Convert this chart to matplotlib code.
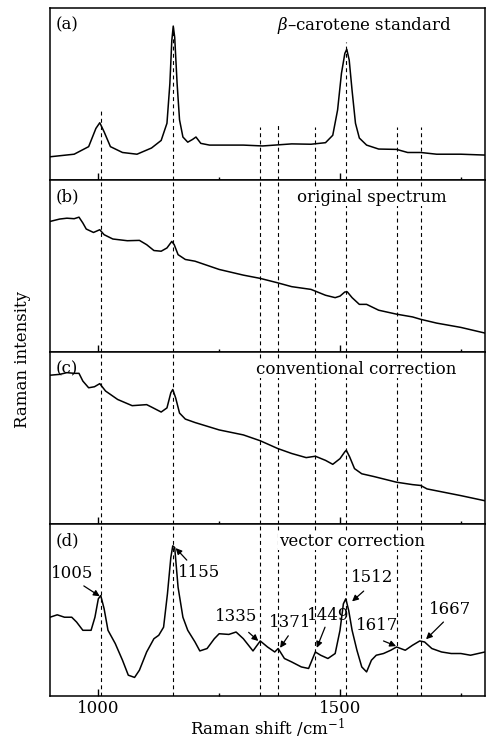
import numpy as np
import matplotlib
matplotlib.use("Agg")
import matplotlib.pyplot as plt

plt.rcParams['font.family'] = 'DejaVu Serif'
plt.rcParams['mathtext.fontset'] = 'dejavuserif'

# ---- data (arbitrary intensity units, 0-100 per panel) ----
xa = [900, 950, 980, 995, 1003, 1012, 1025, 1050, 1080, 1110, 1130, 1142, 1148, 1152, 1155,
      1158, 1163, 1168, 1175, 1185, 1195, 1202, 1212, 1230, 1300, 1340, 1400, 1440, 1470,
      1485, 1495, 1503, 1510, 1514, 1519, 1525, 1532, 1540, 1555, 1580, 1617, 1640, 1667,
      1700, 1750, 1800]
ya = [13.5, 15, 19.4, 30, 33.3, 28, 19.4, 16, 15, 18.6, 23, 33, 56, 81, 89.5,
      83, 56, 35, 25, 22, 23.6, 25, 21.3, 20.3, 20.3, 19.8, 21, 20.8, 21.7,
      26, 40.7, 62, 73.6, 76, 69.8, 52, 33, 24.4, 20.3, 18, 17.8, 16, 16,
      15, 15, 14.5]

xb = [900, 920, 935, 950, 960, 968, 975, 990, 1003, 1012, 1030, 1060, 1085, 1100, 1115,
      1130, 1142, 1152, 1157, 1165, 1180, 1200, 1250, 1300, 1335, 1370, 1400, 1440, 1470,
      1490, 1500, 1510, 1515, 1525, 1540, 1555, 1580, 1617, 1650, 1667, 1700, 1750, 1800]
yb = [75.9, 77.3, 77.8, 77.5, 78.4, 75, 71.5, 69.5, 71.1, 68.2, 65.7, 64.7, 64.9, 62.4, 59,
      58.6, 60.5, 64.3, 62.4, 56.6, 53.8, 52.8, 48, 44.7, 42.8, 40.3, 38, 36.4, 33,
      31.6, 32.5, 34.9, 35, 31.6, 27.7, 27.7, 24.3, 22, 20.4, 19, 16.8, 14.3, 11]

xc = [900, 920, 935, 950, 960, 968, 980, 992, 1003, 1015, 1040, 1070, 1100, 1110, 1130,
      1142, 1150, 1154, 1160, 1168, 1180, 1200, 1250, 1300, 1335, 1371, 1400, 1430, 1449,
      1470, 1485, 1500, 1510, 1513, 1520, 1530, 1545, 1570, 1617, 1650, 1667, 1680, 1750, 1800]
yc = [86.5, 87, 88, 87.6, 87.6, 83.1, 79.2, 79.8, 81.6, 77.3, 72.4, 68.8, 69.4, 68, 65.1,
      67.5, 76.3, 78.2, 73.3, 64.5, 61, 59, 54.7, 51.8, 48.4, 43.9, 41, 38.6, 39.4,
      37, 34.7, 38, 42, 42.9, 39, 32.2, 29.2, 27.6, 24.3, 22.9, 22.4, 20.4, 16.5, 13.5]

xd = [900, 915, 930, 945, 955, 968, 985, 993, 1000, 1005, 1012, 1020, 1035, 1050, 1062,
      1075, 1085, 1100, 1115, 1125, 1135, 1143, 1150, 1154, 1158, 1165, 1175, 1185, 1200,
      1210, 1225, 1240, 1250, 1270, 1285, 1300, 1320, 1335, 1350, 1365, 1372, 1385, 1400,
      1420, 1435, 1449, 1460, 1475, 1490, 1500, 1507, 1512, 1518, 1525, 1535, 1545, 1555,
      1565, 1575, 1590, 1605, 1617, 1635, 1650, 1665, 1675, 1690, 1710, 1730, 1750, 1770, 1800]
yd = [45.8, 47.2, 45.8, 45.8, 43, 38.2, 38.2, 45.8, 56.5, 58.4, 50.7, 38.2, 30.5, 20.8, 12.1,
      10.8, 15, 25.6, 33.3, 35.3, 40, 59.4, 80.5, 87.3, 86.3, 63.2, 45.8, 38.2, 31.4,
      26.2, 27.6, 33.3, 36.2, 35.8, 37.2, 33.3, 26.2, 32, 28.5, 25.6, 27.6, 21.8, 19.8,
      16.9, 16, 25.6, 23.7, 21.8, 24.7, 38.2, 53.6, 56.5, 49.7, 38.2, 26.6, 16.9, 14,
      20.8, 23.7, 24.7, 26.6, 28.5, 26.6, 29.5, 32, 31.4, 27.6, 25.6, 24.7, 24.7, 23.7, 25.6]

peaks = [1005, 1155, 1335, 1371, 1449, 1512, 1617, 1667]
# where the dashed guide lines start in panel (a), as fraction of the panel height
peak_start_a = [0.41, 0.89, 0.31, 0.33, 0.31, 0.80, 0.31, 0.31]

labels = ["(a)", "(b)", "(c)", "(d)"]
titles = [r"$\beta$–carotene standard", "original spectrum",
          "conventional correction", "vector correction"]

# annotations of panel (d): label, text pos, arrow tail, arrow tip
ann_lbl = ["1005", "1155", "1335", "1371", "1449", "1512", "1617", "1667"]
ann_txt = [(945, 71), (1208, 72), (1286, 46), (1397, 43), (1476, 47), (1566, 69), (1576, 41), (1728, 50)]
ann_tail = [(970, 64), (1183, 79), (1311, 37), (1393, 35), (1469, 40), (1549, 61), (1590, 32), (1714, 43)]
ann_tip = [(1003, 58), (1160, 86), (1331, 32), (1376, 28), (1452, 28), (1525, 55), (1616, 29), (1678, 33)]

fig, axes = plt.subplots(4, 1, sharex=True, figsize=(4.92, 7.42), dpi=100)
fig.subplots_adjust(left=0.1016, right=0.9858, top=0.9892, bottom=0.062, hspace=0)

data = [(xa, ya), (xb, yb), (xc, yc), (xd, yd)]
for i, ax in enumerate(axes):
    x, y = data[i]
    ax.plot(x, y, color='black', lw=1.1)
    ax.set_xlim(900, 1800)
    ax.set_ylim(0, 100)
    ax.set_yticks([])
    ax.set_xticks([1000, 1500])
    ax.set_xticks([1250, 1750], minor=True)
    ax.tick_params(axis='x', which='major', direction='in', length=5, width=1,
                   labelsize=12, pad=3)
    ax.tick_params(axis='x', which='minor', direction='in', length=2.5, width=1)
    for s in ax.spines.values():
        s.set_linewidth(1.1)
    for j, p in enumerate(peaks):
        ymin = peak_start_a[j] if i == 0 else 0
        ax.axvline(p, ymin=ymin, ymax=1 if i > 0 else ymin, color='black', lw=0.8,
                   dashes=(3.5, 3), zorder=1)
        if i == 0:
            ax.axvline(p, ymin=0, ymax=ymin, color='black', lw=0.8, dashes=(3.5, 3), zorder=1)
    ax.text(0.013, 0.9, labels[i], transform=ax.transAxes, fontsize=12,
            ha='left', va='center', zorder=5)
    ax.text([0.924, 0.912, 0.935, 0.862][i], 0.9, titles[i], transform=ax.transAxes,
            fontsize=12, ha='right', va='center', zorder=5,
            bbox=dict(facecolor='white', edgecolor='none', pad=0.5))

axd = axes[3]
for lbl, t, tail, tip in zip(ann_lbl, ann_txt, ann_tail, ann_tip):
    axd.text(t[0], t[1], lbl, fontsize=12, ha='center', va='center', zorder=5)
    axd.annotate("", xy=tip, xytext=tail,
                 arrowprops=dict(arrowstyle='-|>', color='black', lw=0.9,
                                 mutation_scale=9, shrinkA=0, shrinkB=0))

axd.set_xlabel("Raman shift /cm$^{-1}$", fontsize=12, labelpad=0)
fig.text(0.045, 0.515, "Raman intensity", rotation=90, fontsize=12, ha='center', va='center')

plt.savefig("out.png", dpi=100)
